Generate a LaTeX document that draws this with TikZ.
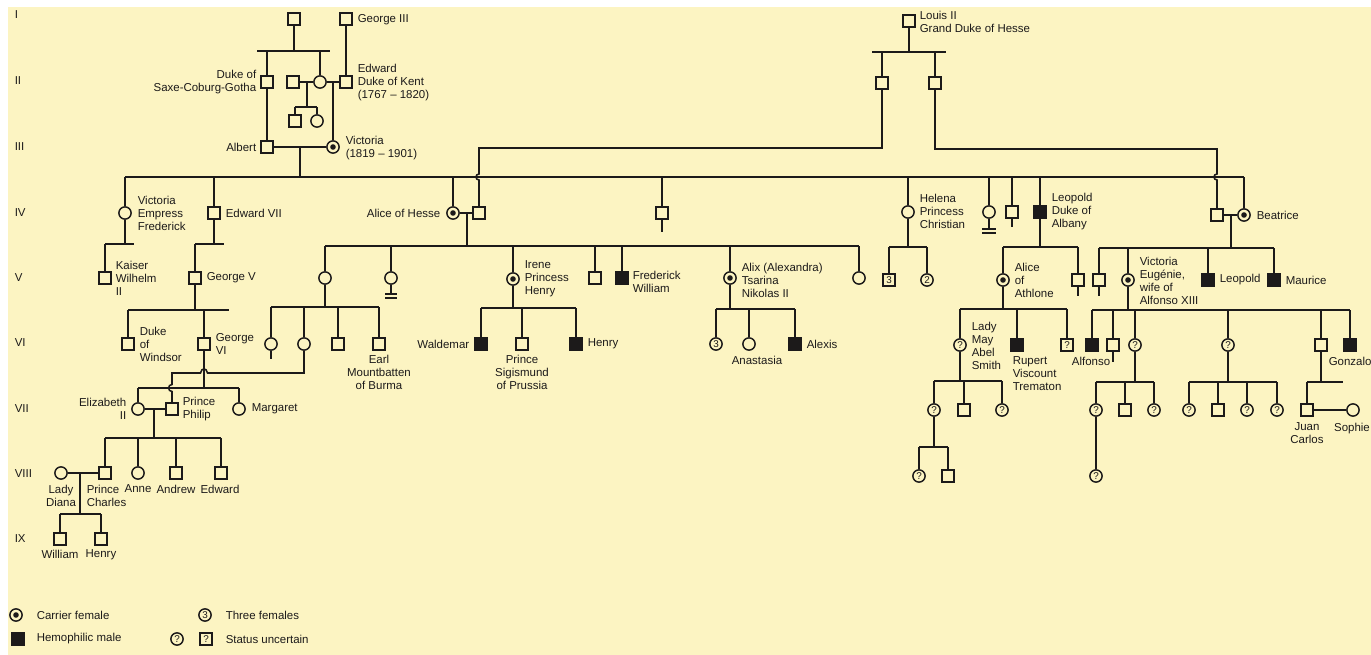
\documentclass[tikz,border=0pt]{standalone}
\usepackage{fontspec}
\setmainfont{Liberation Sans}
\definecolor{bg}{RGB}{252,244,194}
\definecolor{ink}{RGB}{28,26,26}
\begin{document}
\begin{tikzpicture}[x=0.75pt,y=-0.75pt,line width=1.15pt,color=ink,
 ind/.style={draw=ink,fill=bg,minimum size=9.2pt,inner sep=0pt,line width=1.1pt,font=\fontsize{7.4}{7.6}\selectfont},
 male/.style={ind,rectangle},
 female/.style={ind,circle},
 hmale/.style={male,fill=ink},
 carrier/.style={female,path picture={\fill[ink] (path picture bounding box.center) circle (2.1pt);}},
 lab/.style={inner sep=0pt,font=\fontsize{8.6}{9.75}\selectfont,text=ink},
 labl/.style={lab,anchor=west,align=left},
 labr/.style={lab,anchor=east,align=right},
 labc/.style={lab,align=center},
 gen/.style={lab,anchor=west}]
\useasboundingbox (0,0) rectangle (1371,655);
\fill[bg] (8,7) rectangle (1371,655);

% generation numerals
\node[gen] (gI) at (14,15) {I};
\node[gen] (gII) at (14,81) {II};
\node[gen] (gIII) at (14,147) {III};
\node[gen] (gIV) at (14,213) {IV};
\node[gen] (gV) at (14,278) {V};
\node[gen] (gVI) at (14,343) {VI};
\node[gen] (gVII) at (14,409) {VII};
\node[gen] (gVIII) at (14,474) {VIII};
\node[gen] (gIX) at (14,539) {IX};

% ---------- individuals ----------
% I
\node[male] (a1) at (294,19) {};
\node[male] (g3) at (346,19) {};
\node[male] (lo) at (909,21) {};
% II
\node[male] (sc) at (267,82) {};
\node[male] (b1) at (293,82) {};
\node[female] (b2) at (320,82) {};
\node[male] (ek) at (346,82) {};
\node[male] (b3) at (295,121) {};
\node[female] (b4) at (317,121) {};
\node[male] (h1) at (882,83) {};
\node[male] (h2) at (935,83) {};
% III
\node[male] (alb) at (267,147) {};
\node[carrier] (vic) at (333,147) {};
% IV
\node[female] (evf) at (125,213) {};
\node[male] (e7) at (214,213) {};
\node[carrier] (aoh) at (453,213) {};
\node[male] (ahus) at (479,213) {};
\node[male] (alf) at (662,213) {};
\node[female] (hel) at (908,212) {};
\node[female] (c989) at (989,212) {};
\node[male] (s1012) at (1012,212) {};
\node[hmale] (leo) at (1040,212) {};
\node[male] (bhus) at (1217,215) {};
\node[carrier] (bea) at (1244,215) {};
% V
\node[male] (kw) at (105,278) {};
\node[male] (g5) at (195,278) {};
\node[female] (vh) at (325,278) {};
\node[female] (c391) at (391,278) {};
\node[carrier] (irene) at (513,279) {};
\node[male] (s595) at (595,278) {};
\node[hmale] (fw) at (622,278) {};
\node[carrier] (alix) at (730,278) {};
\node[female] (c859) at (859,278) {};
\node[male] (q3) at (889,280) {3};
\node[female] (c2) at (927,280) {2};
\node[carrier] (aath) at (1003,280) {};
\node[male] (s1078) at (1078,280) {};
\node[male] (s1099) at (1099,280) {};
\node[carrier] (ve) at (1128,280) {};
\node[hmale] (leo2) at (1208,280) {};
\node[hmale] (mau) at (1274,280) {};
% VI
\node[male] (dw) at (128,344) {};
\node[male] (g6) at (204,344) {};
\node[female] (c271) at (271,344) {};
\node[female] (c304) at (304,344) {};
\node[male] (s338) at (338,344) {};
\node[male] (em) at (379,344) {};
\node[hmale] (wal) at (481,344) {};
\node[male] (sig) at (522,344) {};
\node[hmale] (hen) at (576,344) {};
\node[female] (c716) at (716,344) {3};
\node[female] (ana) at (749,344) {};
\node[hmale] (alx) at (795,344) {};
\node[female] (lms) at (960,345) {?};
\node[hmale] (rup) at (1017,345) {};
\node[male] (qsq) at (1067,345) {?};
\node[hmale] (alfo) at (1092,345) {};
\node[male] (s1113) at (1113,345) {};
\node[female] (q1135) at (1135,345) {?};
\node[female] (q1228) at (1228,345) {?};
\node[male] (s1321) at (1321,345) {};
\node[hmale] (gon) at (1350,345) {};
% VII
\node[female] (eliz) at (138,409) {};
\node[male] (phil) at (172,409) {};
\node[female] (marg) at (239,409) {};
\node[female] (q934) at (934,410) {?};
\node[male] (s964) at (964,410) {};
\node[female] (q1002) at (1002,410) {?};
\node[female] (q1096) at (1096,410) {?};
\node[male] (s1125) at (1125,410) {};
\node[female] (q1154) at (1154,410) {?};
\node[female] (q1189) at (1189,410) {?};
\node[male] (s1218) at (1218,410) {};
\node[female] (q1247) at (1247,410) {?};
\node[female] (q1277) at (1277,410) {?};
\node[male] (jc) at (1307,410) {};
\node[female] (soph) at (1353,410) {};
% VIII
\node[female] (diana) at (61,473) {};
\node[male] (charles) at (105,473) {};
\node[female] (anne) at (138,473) {};
\node[male] (andrew) at (176,473) {};
\node[male] (edw) at (221,473) {};
\node[female] (q919) at (919,476) {?};
\node[male] (s948) at (948,476) {};
\node[female] (q1096b) at (1096,476) {?};
% IX
\node[male] (wil) at (60,539) {};
\node[male] (hry) at (101,539) {};

% ---------- connectors ----------
% generation I -> II
\coordinate (sA) at (257,51);
\draw (sA) -- (330,51);
\draw (a1.south) -- (a1 |- sA);
\draw (sc.north) -- (sc |- sA);
\draw (b2.north) -- (b2 |- sA);
\draw (g3.south) -- (ek.north);
\draw (b1.east) -- (b2.west);
\coordinate (sC) at (307,107);
\draw (sC |- b1) -- (sC);
\draw (b3 |- sC) -- (b4 |- sC);
\draw (b3.north) -- (b3 |- sC);
\draw (b4.north) -- (b4 |- sC);
\draw (b2.east) -- (ek.west);
\draw (vic.north) -- (vic |- ek);
\draw (sc.south) -- (alb.north);
\draw (alb.east) -- (vic.west);
% Victoria's children
\coordinate (big) at (300,177);
\draw (big |- alb) -- (big);
\draw (evf |- big) -- (bea |- big);
\foreach \k in {evf,e7,aoh,alf,hel,c989,s1012,leo,bea}
  \draw (\k.north) -- (\k |- big);
% Hesse
\coordinate (sL) at (872,52);
\draw (sL) -- (946,52);
\draw (lo.south) -- (lo |- sL);
\draw (h1.north) -- (h1 |- sL);
\draw (h2.north) -- (h2 |- sL);
\draw (h1.south) |- (479,148) -- (479,174) .. controls (475,174) and (475,180) .. (479,180) -- (ahus.north);
\draw (h2.south) |- (1217,149) -- (1217,174) .. controls (1213,174) and (1213,180) .. (1217,180) -- (bhus.north);
% Victoria Empress Frederick
\coordinate (sEF) at (105,244);
\draw (evf.south) -- (evf |- sEF);
\draw (sEF) -- (134,244);
\draw (kw.north) -- (sEF);
% Edward VII
\coordinate (sE7) at (195,244);
\draw (e7.south) -- (e7 |- sE7);
\draw (sE7) -- (224,244);
\draw (g5.north) -- (sE7);
% George V
\coordinate (sG5) at (128,310);
\draw (g5.south) -- (g5 |- sG5);
\draw (sG5) -- (229,310);
\draw (dw.north) -- (sG5);
\draw (g6.north) -- (g6 |- sG5);
% George VI
\coordinate (sG6) at (138,388);
\draw (g6.south) -- (g6 |- sG6);
\draw (sG6) -- (239,388);
\draw (eliz.north) -- (sG6);
\draw (marg.north) -- (marg |- sG6);
% Philip's descent
\draw (c304.south) |- (207.5,373) .. controls (206.5,367.5) and (201.5,367.5) .. (200.5,373) -- (172,373) -- (172,384.5) .. controls (167.5,384.5) and (167.5,391.5) .. (172,391.5) -- (phil.north);
% Elizabeth & Philip
\draw (eliz.east) -- (phil.west);
\coordinate (sEP) at (154,438);
\draw (sEP |- eliz) -- (sEP);
\draw (charles |- sEP) -- (edw |- sEP);
\foreach \k in {charles,anne,andrew,edw}
  \draw (\k.north) -- (\k |- sEP);
% Diana & Charles
\draw (diana.east) -- (charles.west);
\coordinate (sDC) at (80,514);
\draw (sDC |- diana) -- (sDC);
\draw (wil |- sDC) -- (hry |- sDC);
\draw (wil.north) -- (wil |- sDC);
\draw (hry.north) -- (hry |- sDC);
% Alice of Hesse
\draw (aoh.east) -- (ahus.west);
\coordinate (sAH) at (467,246);
\draw (sAH |- aoh) -- (sAH);
\draw (vh |- sAH) -- (c859 |- sAH);
\foreach \k in {vh,c391,irene,s595,fw,alix,c859}
  \draw (\k.north) -- (\k |- sAH);
\draw (c391.south) -- (391,294);
\draw (385,294) -- (397,294);
\draw (385,298) -- (397,298);
% Victoria of Hesse
\coordinate (sVH) at (271,307);
\draw (vh.south) -- (vh |- sVH);
\draw (sVH) -- (379,307);
\foreach \k in {c271,c304,s338,em}
  \draw (\k.north) -- (\k |- sVH);
\draw (c271.south) -- (271,359);
% Irene
\coordinate (sIR) at (481,308);
\draw (irene.south) -- (irene |- sIR);
\draw (sIR) -- (576,308);
\foreach \k in {wal,sig,hen}
  \draw (\k.north) -- (\k |- sIR);
% Alix
\coordinate (sAX) at (716,309);
\draw (alix.south) -- (alix |- sAX);
\draw (sAX) -- (795,309);
\foreach \k in {c716,ana,alx}
  \draw (\k.north) -- (\k |- sAX);
% Alfred
\draw (alf.south) -- (662,232);
% Helena
\coordinate (sHE) at (889,247);
\draw (hel.south) -- (hel |- sHE);
\draw (sHE) -- (927,247);
\draw (q3.north) -- (q3 |- sHE);
\draw (c2.north) -- (c2 |- sHE);
% Louise and Arthur
\draw (c989.south) -- (989,229);
\draw (982,229) -- (996,229);
\draw (982,233) -- (996,233);
\draw (s1012.south) -- (1012,227);
% Leopold
\coordinate (sLE) at (1003,247);
\draw (leo.south) -- (leo |- sLE);
\draw (sLE) -- (1078,247);
\draw (aath.north) -- (aath |- sLE);
\draw (s1078.north) -- (s1078 |- sLE);
\draw (s1078.south) -- (1078,296);
% Alice of Athlone
\coordinate (sAA) at (960,309);
\draw (aath.south) -- (aath |- sAA);
\draw (sAA) -- (1067,309);
\foreach \k in {lms,rup,qsq}
  \draw (\k.north) -- (\k |- sAA);
% Lady May
\coordinate (sLM) at (934,381);
\draw (lms.south) -- (lms |- sLM);
\draw (sLM) -- (1002,381);
\foreach \k in {q934,s964,q1002}
  \draw (\k.north) -- (\k |- sLM);
\coordinate (sQ9) at (919,447);
\draw (q934.south) -- (q934 |- sQ9);
\draw (sQ9) -- (948,447);
\draw (q919.north) -- (q919 |- sQ9);
\draw (s948.north) -- (s948 |- sQ9);
% Beatrice
\draw (bhus.east) -- (bea.west);
\coordinate (sBE) at (1231,248);
\draw (sBE |- bea) -- (sBE);
\draw (s1099 |- sBE) -- (mau |- sBE);
\foreach \k in {s1099,ve,leo2,mau}
  \draw (\k.north) -- (\k |- sBE);
\draw (s1099.south) -- (1099,296);
% Victoria Eugenie
\coordinate (sVE) at (1092,310);
\draw (ve.south) -- (ve |- sVE);
\draw (sVE) -- (gon |- sVE);
\foreach \k in {alfo,s1113,q1135,q1228,s1321,gon}
  \draw (\k.north) -- (\k |- sVE);
\draw (s1113.south) -- (1113,362);
\coordinate (sQA) at (1096,382);
\draw (q1135.south) -- (q1135 |- sQA);
\draw (sQA) -- (1154,382);
\foreach \k in {q1096,s1125,q1154}
  \draw (\k.north) -- (\k |- sQA);
\draw (q1096.south) -- (q1096b.north);
\coordinate (sQB) at (1189,382);
\draw (q1228.south) -- (q1228 |- sQB);
\draw (sQB) -- (1277,382);
\foreach \k in {q1189,s1218,q1247,q1277}
  \draw (\k.north) -- (\k |- sQB);
\coordinate (sJC) at (1307,382);
\draw (s1321.south) -- (s1321 |- sJC);
\draw (sJC) -- (1343,382);
\draw (jc.north) -- (sJC);
\draw (jc.east) -- (soph.west);

% ---------- labels ----------
\node[labl] (tg3) at (357,20) {George III};
\node[labr] (tsc) at (257,82.5) {Duke of\\Saxe-Coburg-Gotha};
\node[labl] (tek) at (357,83) {Edward\\Duke of Kent\\(1767 -- 1820)};
\node[labr] (talb) at (257,147) {Albert};
\node[labl] (tvic) at (345,148) {Victoria\\(1819 -- 1901)};
\node[labl] (tlo) at (919,21.5) {Louis II\\Grand Duke of Hesse};
\node[labl] (tevf) at (137,213) {Victoria\\Empress\\Frederick};
\node[labl] (te7) at (225,213) {Edward VII};
\node[labl] (tkw) at (115,278) {Kaiser\\Wilhelm\\II};
\node[labl] (tg5) at (206,278) {George V};
\node[labl] (tdw) at (139,344) {Duke\\of\\Windsor};
\node[labl] (tg6) at (215,343.5) {George\\VI};
\node[labc] (tem) at (379,372) {Earl\\Mountbatten\\of Burma};
\node[labr] (tel) at (127,409) {Elizabeth\\II};
\node[labl] (tph) at (182,409) {Prince\\Philip};
\node[labl] (tma) at (251,409) {Margaret};
\node[labc] (tdi) at (61,495.5) {Lady\\Diana};
\node[labl] (tch) at (86,495.5) {Prince\\Charles};
\node[labc,anchor=north] (tan) at (138,484) {Anne};
\node[labc,anchor=north] (tad) at (176,484) {Andrew};
\node[labc,anchor=north] (ted) at (220,484) {Edward};
\node[labc,anchor=north] (twi) at (60,549) {William};
\node[labc,anchor=north] (the) at (101,549) {Henry};
\node[labr] (taoh) at (441,213) {Alice of Hesse};
\node[labl] (tir) at (524,279) {Irene\\Princess\\Henry};
\node[labr] (twa) at (470,344) {Waldemar};
\node[labc] (tsi) at (522,372) {Prince\\Sigismund\\of Prussia};
\node[labl] (thn) at (587,344) {Henry};
\node[labl] (tfw) at (632,281.5) {Frederick\\William};
\node[labl] (tax) at (741,280) {Alix (Alexandra)\\Tsarina\\Nikolas II};
\node[labc,anchor=north] (tana) at (757,355) {Anastasia};
\node[labl] (talx) at (806,344) {Alexis};
\node[labl] (thel) at (919,211.5) {Helena\\Princess\\Christian};
\node[labl] (tleo) at (1051,212) {Leopold\\Duke of\\Albany};
\node[labl] (tbea) at (1256,215) {Beatrice};
\node[labl] (taa) at (1014,280) {Alice\\of\\Athlone};
\node[labl] (tve) at (1139,280.5) {Victoria\\Eugénie,\\wife of\\Alfonso XIII};
\node[labl] (tleo2) at (1219,280) {Leopold};
\node[labl] (tmau) at (1285,280) {Maurice};
\node[labl] (tlms) at (971,345.5) {Lady\\May\\Abel\\Smith};
\node[labl] (trup) at (1012,374) {Rupert\\Viscount\\Trematon};
\node[labc,anchor=north] (talfo) at (1091,356) {Alfonso};
\node[labl,anchor=north west] (tgon) at (1328,356) {Gonzalo};
\node[labc] (tjc) at (1307,433) {Juan\\Carlos};
\node[labc,anchor=north] (tso) at (1352,422) {Sophie};

% ---------- legend ----------
\node[carrier] (lg1) at (16,615) {};
\node[labl] (lt1) at (36,615) {Carrier female};
\node[hmale] (lg2) at (18,639) {};
\node[labl] (lt2) at (36,639) {Hemophilic male};
\node[female] (lg3) at (205,615) {3};
\node[labl] (lt3) at (225,615) {Three females};
\node[female] (lg4) at (177,639) {?};
\node[male] (lg5) at (206,639) {?};
\node[labl] (lt4) at (225,639) {Status uncertain};
\end{tikzpicture}
\end{document}
